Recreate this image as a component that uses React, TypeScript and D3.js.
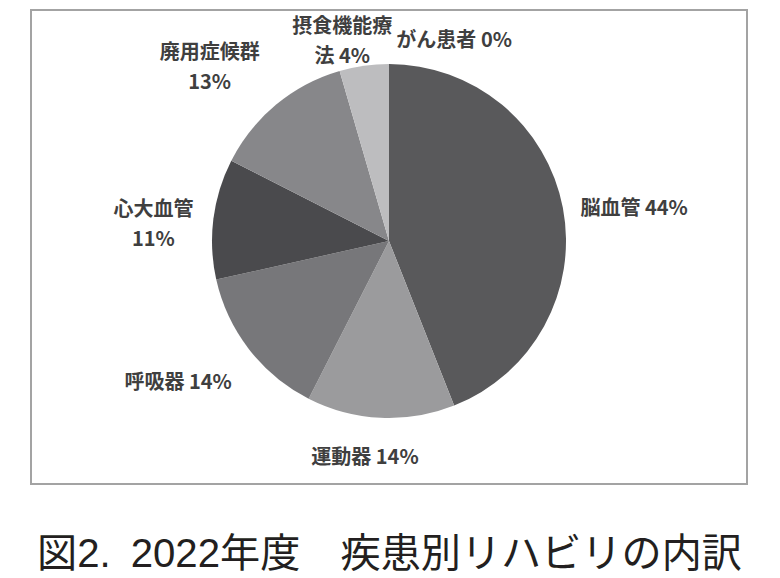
import React, { useEffect, useRef } from 'react';
import * as d3 from 'd3';

// ---- data ----
const categories = ['脳血管', '運動器', '呼吸器', '心大血管', '廃用症候群', '摂食機能療法', 'がん患者'];
const values = [44, 13.5, 14, 11, 13, 4.5, 0];
const percentLabels = ['44%', '14%', '14%', '11%', '13%', '4%', '0%'];
// number of name characters kept on the first label line (0 = single line)
const nameBreaks = [0, 0, 0, 4, 5, 5, 0];
const colors = ['#59595b', '#9b9b9d', '#77777a', '#4a4a4d', '#87878a', '#bdbdbf', '#dcdcdd'];
const titleText = '図2.\u20022022年度\u3000疾患別リハビリの内訳';

// layout hints: small label nudges (dx, dy) after automatic placement
const labelNudge: [number, number][] = [
  [-1, 14],
  [-14, 4],
  [-16, -10],
  [1, 13],
  [-20, 18],
  [-14, 0],
  [-12, 9],
];

export default function App() {
  const ref = useRef<SVGSVGElement>(null);

  useEffect(() => {
    document.body.style.margin = '0';
    const svg = d3.select(ref.current);
    svg.selectAll('*').remove();

    const frame = { x: 31, y: 10, w: 716, h: 474 };
    svg
      .append('rect')
      .attr('x', frame.x)
      .attr('y', frame.y)
      .attr('width', frame.w)
      .attr('height', frame.h)
      .attr('fill', '#fff')
      .attr('stroke', '#a3a3a3')
      .attr('stroke-width', 2);

    const cx = 389;
    const cy = 241;
    const r = 177;
    const pie = d3.pie<number>().sort(null).value((d) => d);
    const arcs = pie(values);
    const arc = d3.arc<d3.PieArcDatum<number>>().innerRadius(0).outerRadius(r);

    const g = svg.append('g').attr('transform', `translate(${cx},${cy})`);
    g.selectAll('path')
      .data(arcs)
      .join('path')
      .attr('d', arc as any)
      .attr('fill', (_d, i) => colors[i]);

    // ---- data labels ----
    const fs = 20;
    const lh = 30;
    const gap = 18;
    const lg = svg
      .append('g')
      .attr('font-family', '"Noto Sans CJK JP", "Noto Sans", sans-serif')
      .attr('font-size', fs)
      .attr('font-weight', 700)
      .attr('fill', '#3f3f3f');

    let prev: { left: number; right: number; top: number; bottom: number } | null = null;
    arcs.forEach((a, i) => {
      const name = categories[i];
      const pct = percentLabels[i];
      const br = nameBreaks[i];
      let lines: string[];
      if (br) {
        const rest = name.slice(br);
        lines = [name.slice(0, br), rest ? rest + ' ' + pct : pct];
      } else {
        lines = [name + ' ' + pct];
      }
      const texts = lines.map((l) =>
        lg.append('text').attr('text-anchor', 'middle').text(l)
      );
      const w = Math.max(...texts.map((t) => (t.node() as SVGTextElement).getComputedTextLength()));
      const h = lines.length * lh;
      const mid = (a.startAngle + a.endAngle) / 2;
      const s = Math.sin(mid);
      const c = Math.cos(mid);
      const R = r + gap + (Math.abs(s) * w) / 2 + (Math.abs(c) * h) / 2;
      let bx = cx + R * s;
      let by = cy - R * c;
      by = Math.max(by, frame.y + 1 + h / 2);
      let box = { left: bx - w / 2, right: bx + w / 2, top: by - h / 2, bottom: by + h / 2 };
      if (
        prev &&
        box.left < prev.right &&
        box.right > prev.left &&
        box.top < prev.bottom &&
        box.bottom > prev.top
      ) {
        bx = prev.right + 2 + w / 2;
        box = { left: bx - w / 2, right: bx + w / 2, top: by - h / 2, bottom: by + h / 2 };
      }
      prev = box;
      const [ndx, ndy] = labelNudge[i];
      texts.forEach((t, k) => {
        const lineCenter = by + ndy - h / 2 + lh * (k + 0.5);
        t.attr('x', bx + ndx).attr('y', lineCenter + fs * 0.36);
      });
    });

    // ---- caption ----
    svg
      .append('text')
      .attr('x', 37)
      .attr('y', 567)
      .attr('font-family', '"Liberation Sans", "Noto Sans CJK JP", sans-serif')
      .attr('font-size', 40)
      .attr('fill', '#231f20')
      .attr('textLength', 705)
      .attr('lengthAdjust', 'spacingAndGlyphs')
      .text(titleText);
  }, []);

  return <svg ref={ref} width={780} height={578} style={{ display: 'block' }} />;
}
